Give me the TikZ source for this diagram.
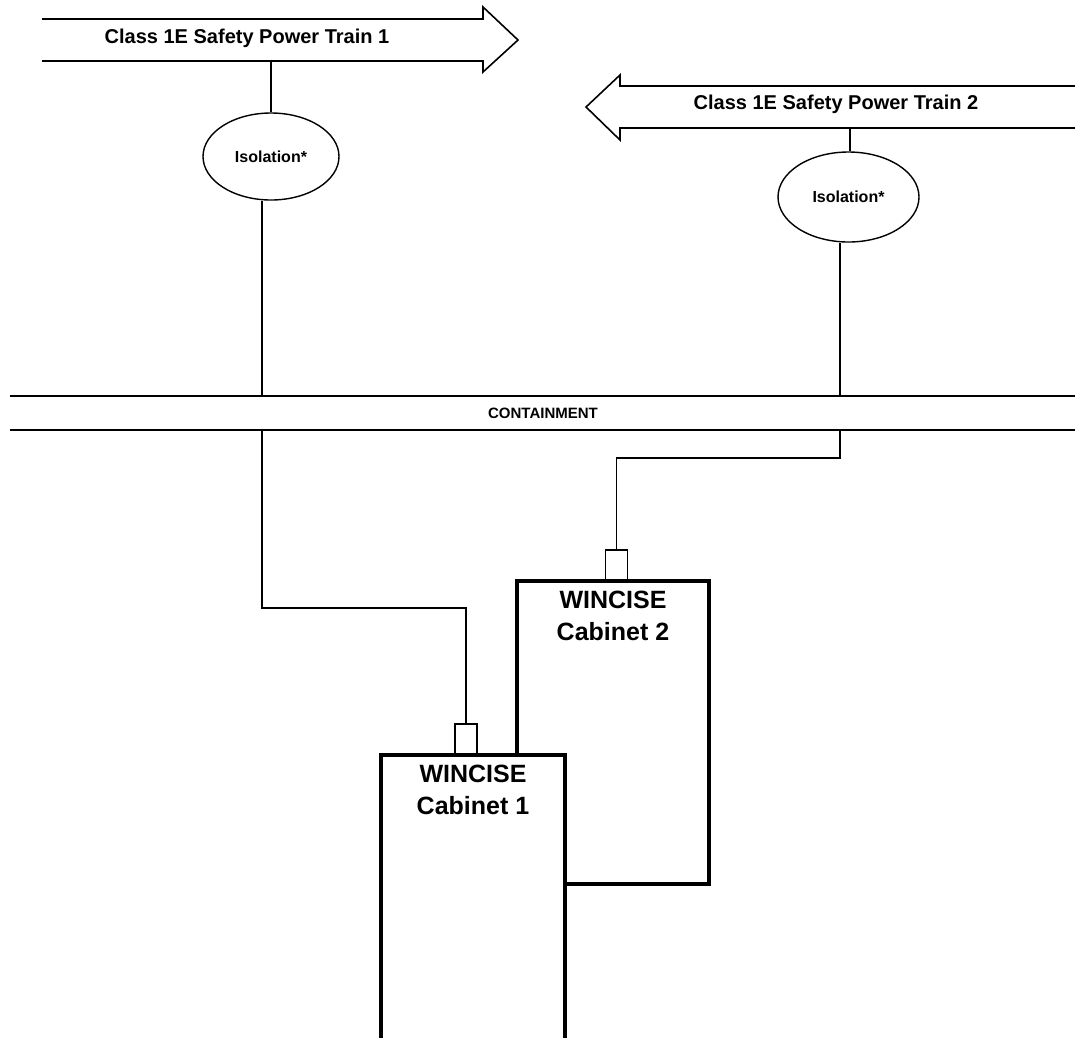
\documentclass[tikz,border=0pt]{standalone}
\usepackage{fontspec}
\setmainfont{Liberation Sans}
\usepackage{tikz}
\usetikzlibrary{shapes.geometric, positioning}

\tikzset{
  train/.style={font=\fontsize{20}{24}\selectfont\bfseries, inner sep=0pt},
  iso/.style={ellipse, draw, line width=1.4pt, inner sep=0pt, font=\fontsize{16}{18}\selectfont\bfseries},
  feed/.style={line width=1.2pt},
  arrowline/.style={line width=1.6pt, line join=miter},
  wall/.style={line width=2.4pt},
  cabwall/.style={line width=3.8pt, line join=miter},
  plug/.style={draw, line width=1.6pt, fill=white, minimum width=22pt, minimum height=30pt, inner sep=0pt},
  cablabel/.style={font=\fontsize{25}{32}\selectfont\bfseries, align=center, inner sep=0pt}
}

\begin{document}
\begin{tikzpicture}[x=1pt, y=-1pt]
\useasboundingbox (0,0) rectangle (1075,1037);
\clip (0,0) rectangle (1075,1037);

% Safety Power Train 1
\draw[arrowline] (42,19) -- (483,19) -- (483,7) -- (518,40) -- (483,72) -- (483,61) -- (42,61);
\node[train] (train1) at (247,38) {Class 1E Safety Power Train 1};
\coordinate (tap1) at (271,61);

% Safety Power Train 2
\draw[arrowline] (1085,86) -- (620,86) -- (620,75) -- (586,107) -- (620,140) -- (620,128) -- (1085,128);
\node[train] (train2) at (836,104) {Class 1E Safety Power Train 2};
\coordinate (tap2) at (850,128);

% Isolation
\node[iso, minimum width=136pt, minimum height=87pt] (iso1) at (271,156.5) {Isolation*};
\node[iso, minimum width=141pt, minimum height=90pt] (iso2) at (848.5,197) {Isolation*};

% Containment
\draw[wall] (10,396) -- (1085,396);
\draw[wall] (10,430) -- (1085,430);
\node[font=\fontsize{15}{18}\selectfont\bfseries] (cont) at (543,413) {CONTAINMENT};
\coordinate (in1) at (262,396);
\coordinate (out1) at (262,430);
\coordinate (in2) at (840,396);
\coordinate (out2) at (840,430);

% Cabinet 2 (behind)
\draw[cabwall] (517,581) rectangle (709,884);
\node[plug, anchor=south] (plug2) at (616.5,581) {};
\node[cablabel, anchor=north] (cab2) at (613,591) {WINCISE\\Cabinet 2};

% Cabinet 1 (front)
\fill[white] (381,755) rectangle (565,1050);
\draw[cabwall] (381,1050) -- (381,755) -- (565,755) -- (565,1050);
\node[plug, anchor=south] (plug1) at (466,755) {};
\node[cablabel, anchor=north] (cab1) at (473,765) {WINCISE\\Cabinet 1};

% Feeds
\draw[feed] (tap1) -- (iso1.north);
\draw[feed] (tap2) -- (tap2 |- iso2.north);
\draw[feed] (iso1.south -| in1) -- (in1);
\draw[feed] (iso2.south -| in2) -- (in2);
\draw[feed] (out1) -- ++(0,178) -| (plug1.north);
\draw[feed] (out2) -- ++(0,28) -| (plug2.north);
\end{tikzpicture}
\end{document}
